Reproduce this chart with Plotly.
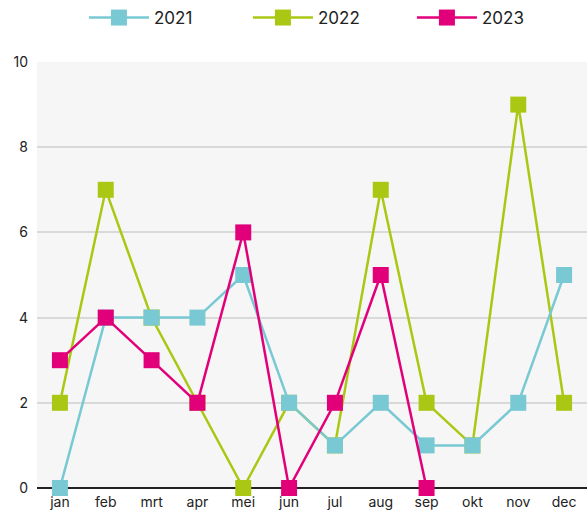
import plotly.graph_objects as go

months = ["jan", "feb", "mrt", "apr", "mei", "jun", "jul", "aug", "sep", "okt", "nov", "dec"]
v2021 = [0, 4, 4, 4, 5, 2, 1, 2, 1, 1, 2, 5]
v2022 = [2, 7, 4, 2, 0, 2, 1, 7, 2, 1, 9, 2]
v2023 = [3, 4, 3, 2, 6, 0, 2, 5, 0]
y_ticks = [0, 2, 4, 6, 8, 10]

colors = {"2021": "#78C9D3", "2022": "#AAC813", "2023": "#E2007A"}

fig = go.Figure()
# draw order: 2022 below 2021, 2023 on top
for name, vals, rank in [("2022", v2022, 2), ("2021", v2021, 1), ("2023", v2023, 3)]:
    fig.add_trace(go.Scatter(
        x=months[:len(vals)], y=vals, name=name, mode="lines+markers",
        line=dict(color=colors[name], width=2.5),
        marker=dict(symbol="square", size=16, color=colors[name]),
        legendrank=rank, cliponaxis=False,
    ))

fig.update_layout(
    width=587, height=512,
    margin=dict(l=37, r=0, t=62, b=24),
    paper_bgcolor="white",
    plot_bgcolor="#F6F6F6",
    font=dict(family="Inter, Roboto, sans-serif", color="#222222", size=14),
    showlegend=True,
    legend=dict(orientation="h", x=0.143, xanchor="left", y=1.0, yanchor="top",
                yref="container", xref="container", font=dict(size=17), itemwidth=60,
                traceorder="normal", entrywidth=89, entrywidthmode="pixels",
                bgcolor="rgba(0,0,0,0)"),
    xaxis=dict(type="category", categoryorder="array", categoryarray=months,
               range=[-0.5, 11.5], showgrid=False, ticks="", tickfont=dict(size=14),
               automargin=False, ticklabelstandoff=4),
    yaxis=dict(range=[0, 10], tickvals=y_ticks, showgrid=True, gridcolor="#D9D9D9",
               gridwidth=2, zeroline=True, zerolinecolor="#222222", zerolinewidth=2,
               ticks="", ticklabelstandoff=8, tickfont=dict(size=14), automargin=False),
)

fig.write_html("out.html", config={"displayModeBar": False},
               post_script="document.body.style.margin='0';")
